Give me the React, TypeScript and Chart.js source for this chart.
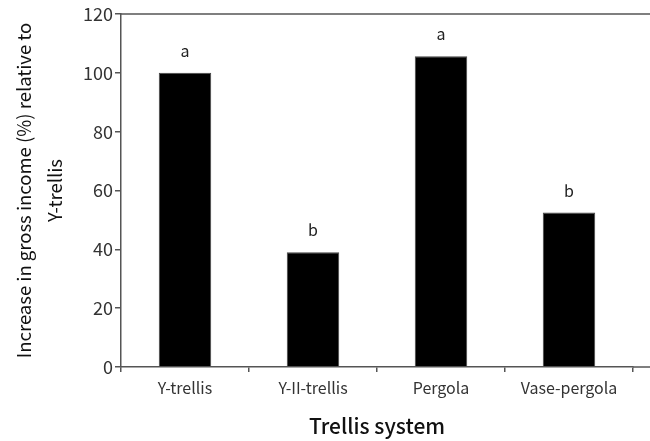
import React, { useEffect, useRef } from "react";
import { Chart, registerables } from "chart.js";

Chart.register(...registerables);

const categories = ["Y-trellis", "Y-II-trellis", "Pergola", "Vase-pergola"];
const incomeIncrease = [100, 39, 105.6, 52.5];
const significance = ["a", "b", "a", "b"];
const yTicks = [0, 20, 40, 60, 80, 100, 120];
const yTitle = ["Increase in gross income (%) relative to", "Y-trellis"];
const xTitle = "Trellis system";

const FONT = "'Noto Sans CJK KR', 'Noto Sans', sans-serif";
const AXIS = "#555555";

const extrasPlugin = {
  id: "extras",
  afterDatasetsDraw(chart: any) {
    const { ctx, chartArea } = chart;
    const meta = chart.getDatasetMeta(0);
    ctx.save();
    ctx.fillStyle = "#222222";
    ctx.font = `16px ${FONT}`;
    ctx.textAlign = "center";
    ctx.textBaseline = "alphabetic";
    meta.data.forEach((bar: any, i: number) => {
      ctx.fillText(significance[i], bar.x, bar.y - 16);
    });
    // top frame line and extended x axis line
    ctx.strokeStyle = AXIS;
    ctx.lineWidth = 1.5;
    ctx.beginPath();
    ctx.moveTo(chartArea.left, chartArea.top);
    ctx.lineTo(chart.width, chartArea.top);
    ctx.moveTo(chartArea.right, chartArea.bottom);
    ctx.lineTo(chart.width, chartArea.bottom);
    ctx.stroke();
    ctx.restore();
  },
};

export default function App() {
  const ref = useRef<HTMLCanvasElement>(null);
  useEffect(() => {
    document.body.style.margin = "0";
    const chart = new Chart(ref.current!, {
      type: "bar",
      data: {
        labels: categories,
        datasets: [
          {
            data: incomeIncrease,
            backgroundColor: "#000000",
            borderColor: "#444444",
            borderWidth: 1,
            barPercentage: 0.41,
            categoryPercentage: 1,
          },
        ],
      },
      options: {
        responsive: false,
        animation: false,
        layout: { padding: { left: 0, right: 17, top: 14, bottom: 0 } },
        plugins: { legend: { display: false }, tooltip: { enabled: false } },
        scales: {
          x: {
            offset: true,
            afterFit: (s: any) => {
              s.height = 74;
            },
            grid: {
              display: true,
              drawOnChartArea: false,
              drawTicks: true,
              tickLength: 5,
              offset: true,
              color: AXIS,
              tickColor: (c: any) => (c.index >= categories.length ? "rgba(0,0,0,0)" : AXIS),
              lineWidth: 1.5,
            },
            border: { display: true, color: AXIS, width: 1.5 },
            ticks: { color: "#333333", font: { family: FONT, size: 16 }, padding: 6 },
            title: {
              display: true,
              text: xTitle,
              color: "#111111",
              font: { family: FONT, size: 21, weight: "500" },
              padding: { top: 0, bottom: 2 },
            },
          },
          y: {
            min: 0,
            max: 120,
            afterFit: (s: any) => {
              s.width = 121;
            },
            afterBuildTicks: (s: any) => {
              s.ticks = yTicks.map((v) => ({ value: v }));
            },
            grid: {
              display: true,
              drawOnChartArea: false,
              drawTicks: true,
              tickLength: 6,
              color: AXIS,
              lineWidth: 1.5,
            },
            border: { display: true, color: AXIS, width: 1.5 },
            ticks: { color: "#333333", font: { family: FONT, size: 18 }, padding: 2 },
            title: {
              display: true,
              text: yTitle,
              color: "#111111",
              font: { family: FONT, size: 18.5, lineHeight: 1.7 },
              padding: { top: 8, bottom: 0 },
            },
          },
        },
      },
      plugins: [extrasPlugin],
    } as any);
    return () => chart.destroy();
  }, []);
  return (
    <div style={{ width: 650, height: 441, overflow: "hidden" }}>
      <canvas ref={ref} width={650} height={441} style={{ display: "block" }} />
    </div>
  );
}
